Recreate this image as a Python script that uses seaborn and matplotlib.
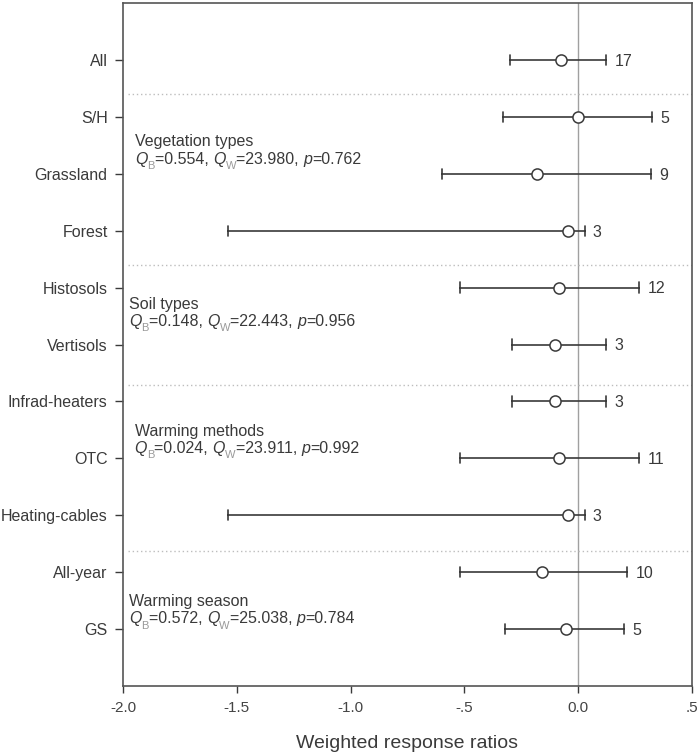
import numpy as np
import pandas as pd
import matplotlib
matplotlib.use("Agg")
import matplotlib.pyplot as plt
import seaborn as sns

sns.set_style("ticks")
plt.rcParams["font.family"] = ["Liberation Sans", "DejaVu Sans"]

# ---- data ----
rows = ["All", "S/H", "Grassland", "Forest", "Histosols", "Vertisols",
        "Infrad-heaters", "OTC", "Heating-cables", "All-year", "GS"]
mean = [-0.076, 0.0, -0.182, -0.045, -0.086, -0.100,
        -0.100, -0.086, -0.045, -0.157, -0.053]
lower = [-0.298, -0.329, -0.598, -1.538, -0.521, -0.290,
         -0.290, -0.521, -1.538, -0.521, -0.323]
upper = [0.124, 0.326, 0.318, 0.028, 0.267, 0.124,
         0.124, 0.267, 0.028, 0.216, 0.203]
n_obs = [17, 5, 9, 3, 12, 3, 3, 11, 3, 10, 5]

# group separators (row units) and heterogeneity stats
sep_y = [0.6, 3.6, 5.72, 8.62]
grp_title = ["Vegetation types", "Soil types", "Warming methods", "Warming season"]
grp_qb = ["0.554", "0.148", "0.024", "0.572"]
grp_qw = ["23.980", "22.443", "23.911", "25.038"]
grp_p = ["0.762", "0.956", "0.992", "0.784"]
grp_x = [-1.947, -1.974, -1.949, -1.974]
grp_y = [1.44, 4.29, 6.52, 9.51]

DARK = "#3a3a3a"
FS = 11.5
long = pd.DataFrame({
    "group": np.repeat(rows, 3),
    "value": np.column_stack([lower, mean, upper]).ravel(),
})

fig = plt.figure(figsize=(7, 7.55), dpi=100)
ax = fig.add_axes([123 / 700, 1 - 686 / 755, 569 / 700, 683 / 755])

ax.axvline(0, color="#a0a0a0", lw=1, zorder=1)
for y in sep_y:
    ax.axhline(y, xmin=0.008, color="#bdbdbd", lw=1, ls=(0, (1, 2)), zorder=1)

# median of (lo, mean, hi) is the mean; errorbar spans lo..hi
sns.pointplot(data=long, x="value", y="group", order=rows, orient="h",
              estimator=np.median, errorbar=lambda v: (v.min(), v.max()),
              linestyle="none", marker="o", color=DARK, markersize=8,
              markerfacecolor="white", markeredgecolor=DARK,
              markeredgewidth=1.1, capsize=0.18,
              err_kws={"linewidth": 1.2, "zorder": 2}, zorder=3, ax=ax)

for i, (hi, n) in enumerate(zip(upper, n_obs)):
    ax.annotate(str(n), xy=(hi, i), xytext=(6, -1), textcoords="offset points",
                va="center", ha="left", fontsize=FS, color=DARK)


def stats_label(x, y, title, qb, qw, p):
    ax.text(x, y, title, fontsize=FS, color=DARK, va="center", ha="left")
    base = ax.text(x, y + 0.31, "Q", fontsize=FS, color=DARK, style="italic",
                   va="center", ha="left")
    parts = [("B", "sub"), ("=" + qb + ", ", ""), ("Q", "it"), ("W", "sub"),
             ("=" + qw + ", ", ""), ("p", "it"), ("=" + p, "")]
    prev = base
    for s, kind in parts:
        kw = dict(fontsize=FS, color=DARK)
        dy = 0
        if kind == "sub":
            kw = dict(fontsize=8, color="#999999")
            dy = -3
        elif kind == "it":
            kw["style"] = "italic"
        prev = ax.annotate(s, xy=(1, 0), xycoords=(prev, base), xytext=(0, dy),
                           textcoords="offset points", va="bottom", ha="left",
                           **kw)


for args in zip(grp_x, grp_y, grp_title, grp_qb, grp_qw, grp_p):
    stats_label(*args)

ax.set_xlim(-2.0, 0.5)
ax.set_ylim(11, -1)
ax.set_xticks([-2.0, -1.5, -1.0, -0.5, 0.0, 0.5])
ax.set_xticklabels(["-2.0", "-1.5", "-1.0", "-.5", "0.0", ".5"])
ax.set_xlabel("Weighted response ratios", fontsize=14, color=DARK, labelpad=14)
ax.set_ylabel("")
ax.tick_params(axis="x", length=5, width=1, colors=DARK, labelsize=11, pad=6,
               labelcolor="#444444")
ax.tick_params(axis="y", length=6, width=1, colors=DARK, labelsize=FS, pad=5)
for sp in ax.spines.values():
    sp.set_visible(True)
    sp.set_color("#555555")
    sp.set_linewidth(1.2)

fig.savefig("out.png", dpi=100)
